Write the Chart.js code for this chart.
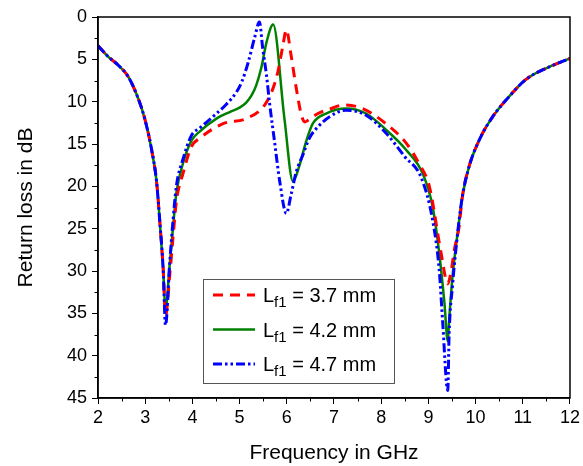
<!DOCTYPE html>
<html>
<head>
<meta charset="utf-8">
<script src="https://cdn.jsdelivr.net/npm/chart.js@4/dist/chart.umd.min.js"></script>
<style>
  body { margin: 0; background: #fff; }
  canvas { display: block; }
</style>
</head>
<body>
<canvas id="lossChart" width="583" height="466"></canvas>
<script>
// values (GHz / dB)
const freq37 = [2.0, 2.22, 2.43, 2.64, 2.85, 2.99, 3.13, 3.24, 3.31, 3.38, 3.43, 3.52, 3.59, 3.66, 3.80, 3.98, 4.16, 4.65, 5.14, 5.53, 5.71, 5.81, 5.92, 5.99, 6.09, 6.20, 6.31, 6.38, 6.45, 6.66, 6.90, 7.20, 7.60, 8.10, 8.53, 8.81, 9.02, 9.27, 9.41, 9.48, 9.55, 9.65, 9.72, 9.86, 10.08, 10.36, 10.71, 11.06, 11.56, 12.0];
const loss37 = [3.4, 4.7, 5.7, 7.05, 9.6, 12.0, 15.5, 19.4, 24.2, 29.7, 35.3, 30.5, 26.0, 21.8, 18.5, 15.3, 14.3, 12.6, 12.0, 10.4, 8.4, 6.5, 3.3, 1.5, 4.5, 8.4, 11.6, 12.4, 12.2, 11.4, 10.9, 10.4, 10.8, 12.6, 14.9, 17.4, 20.0, 27.9, 31.5, 30.1, 27.5, 24.8, 21.2, 17.7, 14.5, 11.8, 9.4, 7.4, 5.9, 4.9];

const freq42 = [2.0, 2.22, 2.43, 2.64, 2.85, 2.99, 3.13, 3.24, 3.31, 3.38, 3.43, 3.52, 3.59, 3.66, 3.80, 3.98, 4.16, 4.51, 4.80, 5.00, 5.14, 5.25, 5.35, 5.46, 5.57, 5.71, 5.95, 6.13, 6.27, 6.41, 6.55, 6.83, 7.26, 7.68, 8.10, 8.53, 8.88, 9.09, 9.23, 9.34, 9.41, 9.44, 9.51, 9.62, 9.72, 9.86, 10.08, 10.36, 10.71, 11.06, 11.56, 12.0];
const loss42 = [3.4, 4.7, 5.7, 7.05, 9.6, 12.0, 15.5, 19.4, 24.2, 29.7, 34.5, 29.2, 24.8, 20.8, 17.3, 14.6, 13.5, 12.0, 11.2, 10.7, 10.1, 9.3, 8.1, 6.0, 3.0, 0.9, 12.0, 19.4, 17.5, 14.7, 12.6, 11.4, 10.8, 11.4, 13.3, 15.7, 18.5, 22.4, 27.9, 33.8, 38.3, 35.8, 30.7, 25.5, 21.2, 17.7, 14.5, 11.8, 9.4, 7.4, 5.9, 4.9];

const freq47 = [2.0, 2.22, 2.43, 2.64, 2.85, 2.99, 3.13, 3.24, 3.31, 3.38, 3.43, 3.52, 3.59, 3.66, 3.80, 3.98, 4.16, 4.51, 4.72, 4.93, 5.05, 5.18, 5.32, 5.42, 5.49, 5.57, 5.64, 5.74, 5.85, 5.99, 6.09, 6.20, 6.34, 6.48, 6.69, 6.90, 7.25, 7.68, 8.10, 8.50, 8.85, 9.09, 9.23, 9.30, 9.41, 9.44, 9.51, 9.62, 9.72, 9.86, 10.08, 10.36, 10.71, 11.06, 11.56, 12.0];
const loss47 = [3.4, 4.7, 5.7, 7.05, 9.6, 12.0, 15.5, 19.4, 24.2, 29.7, 36.4, 29.0, 24.0, 20.0, 16.8, 14.0, 13.1, 11.4, 10.3, 8.9, 7.6, 5.4, 2.4, 0.6, 3.7, 6.9, 10.4, 14.7, 19.4, 23.2, 21.0, 18.3, 16.3, 14.3, 12.8, 11.8, 11.0, 11.6, 13.7, 16.5, 19.0, 24.0, 29.9, 35.8, 44.1, 37.3, 31.8, 25.5, 21.2, 17.7, 14.5, 11.8, 9.4, 7.4, 5.9, 4.9];

const seriesLabels = ['3.7 mm', '4.2 mm', '4.7 mm'];
const xTicks = { min: 2, max: 12, step: 1 };
const yTicks = { min: 0, max: 45, step: 5 };

function pairs(xs, ys) {
    return xs.map((x, i) => ({ x: x, y: ys[i] }));
}

const FONT = '"Liberation Sans", Arial, sans-serif';

// frame on top/right, minor ticks and the boxed legend with subscripts
const decorations = {
    id: 'decorations',
    afterDraw(chart) {
        const ctx = chart.ctx;
        const area = chart.chartArea;
        const xs = chart.scales.x;
        const ys = chart.scales.y;
        ctx.save();
        ctx.strokeStyle = '#000';
        ctx.lineWidth = 1.5;
        ctx.strokeRect(area.left, area.top, area.right - area.left, area.bottom - area.top);

        ctx.lineWidth = 1;
        ctx.beginPath();
        for (let v = xTicks.min + xTicks.step / 2; v < xTicks.max; v += xTicks.step) {
            const px = Math.round(xs.getPixelForValue(v)) + 0.5;
            ctx.moveTo(px, area.bottom);
            ctx.lineTo(px, area.bottom + 3.5);
        }
        for (let v = yTicks.min + yTicks.step / 2; v < yTicks.max; v += yTicks.step) {
            const py = Math.round(ys.getPixelForValue(v)) + 0.5;
            ctx.moveTo(area.left, py);
            ctx.lineTo(area.left - 3.5, py);
        }
        ctx.stroke();

        // legend box
        const bx = area.left + 105, by = area.top + 262, bw = 191, bh = 104;
        ctx.fillStyle = '#fff';
        ctx.fillRect(bx, by, bw, bh);
        ctx.strokeStyle = '#555';
        ctx.lineWidth = 1;
        ctx.strokeRect(bx + 0.5, by + 0.5, bw, bh);

        chart.data.datasets.forEach((ds, r) => {
            const cy = by + 16 + r * 34.5;
            ctx.strokeStyle = ds.borderColor;
            ctx.lineWidth = ds.borderWidth;
            ctx.setLineDash(ds.borderDash || []);
            ctx.beginPath();
            ctx.moveTo(bx + 10, cy);
            ctx.lineTo(bx + 52, cy);
            ctx.stroke();
            ctx.setLineDash([]);

            ctx.fillStyle = '#000';
            ctx.textBaseline = 'alphabetic';
            ctx.textAlign = 'left';
            let tx = bx + 60;
            const base = cy + 7;
            ctx.font = '20px ' + FONT;
            ctx.fillText('L', tx, base);
            tx += ctx.measureText('L').width;
            ctx.font = '15px ' + FONT;
            ctx.fillText('f1', tx, base + 5);
            tx += ctx.measureText('f1').width;
            ctx.font = '20px ' + FONT;
            ctx.fillText(' = ' + seriesLabels[r], tx, base);
        });
        ctx.restore();
    }
};

new Chart(document.getElementById('lossChart'), {
    type: 'line',
    data: {
        datasets: [
            {
                label: 'Lf1 = 3.7 mm',
                data: pairs(freq37, loss37),
                borderColor: '#ff0000',
                borderWidth: 3,
                borderDash: [10, 7],
                order: 1
            },
            {
                label: 'Lf1 = 4.2 mm',
                data: pairs(freq42, loss42),
                borderColor: '#008000',
                borderWidth: 2.5,
                order: 2
            },
            {
                label: 'Lf1 = 4.7 mm',
                data: pairs(freq47, loss47),
                borderColor: '#0000ff',
                borderWidth: 3,
                borderDash: [9, 3, 2.5, 3, 2.5, 3],
                order: 0
            }
        ]
    },
    options: {
        responsive: false,
        animation: false,
        devicePixelRatio: 1,
        elements: {
            point: { radius: 0 },
            line: { cubicInterpolationMode: 'monotone', fill: false }
        },
        layout: { padding: { top: 17, right: 12, left: 0, bottom: 0 } },
        plugins: {
            legend: { display: false },
            tooltip: { enabled: false }
        },
        scales: {
            x: {
                type: 'linear',
                min: xTicks.min,
                max: xTicks.max,
                afterFit: s => { s.height = 68; },
                ticks: {
                    stepSize: xTicks.step,
                    color: '#000',
                    font: { family: FONT, size: 18 },
                    padding: 3,
                    maxRotation: 0
                },
                grid: {
                    drawOnChartArea: false,
                    tickLength: 6,
                    tickColor: '#000',
                    tickWidth: 1
                },
                border: { color: '#000', width: 1.5 },
                title: {
                    display: true,
                    text: 'Frequency in GHz',
                    color: '#000',
                    font: { family: FONT, size: 21 },
                    padding: { top: 0, bottom: 0 }
                }
            },
            y: {
                type: 'linear',
                reverse: true,
                min: yTicks.min,
                max: yTicks.max,
                afterFit: s => { s.width = 98; },
                ticks: {
                    stepSize: yTicks.step,
                    color: '#000',
                    font: { family: FONT, size: 18 },
                    padding: 5
                },
                grid: {
                    drawOnChartArea: false,
                    tickLength: 6,
                    tickColor: '#000',
                    tickWidth: 1
                },
                border: { color: '#000', width: 1.5 },
                title: {
                    display: true,
                    text: 'Return loss in dB',
                    color: '#000',
                    font: { family: FONT, size: 21 },
                    padding: { top: 14, bottom: 0 }
                }
            }
        }
    },
    plugins: [decorations]
});
</script>
</body>
</html>
